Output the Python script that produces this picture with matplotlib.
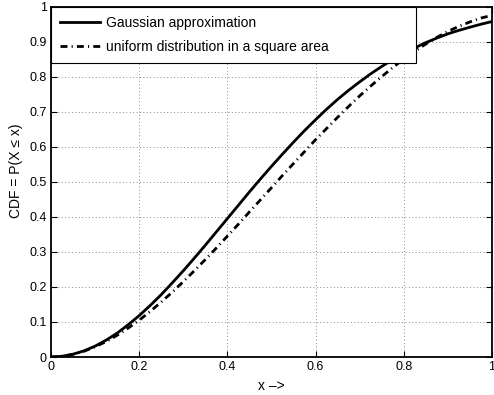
import matplotlib
matplotlib.use("Agg")
import matplotlib.pyplot as plt

# values
x_vals = [0.0, 0.025, 0.05, 0.075, 0.1, 0.125, 0.15, 0.175, 0.2, 0.225, 0.25,
          0.275, 0.3, 0.325, 0.35, 0.375, 0.4, 0.425, 0.45, 0.475, 0.5,
          0.525, 0.55, 0.575, 0.6, 0.625, 0.65, 0.675, 0.7, 0.725, 0.75,
          0.775, 0.8, 0.825, 0.85, 0.875, 0.9, 0.925, 0.95, 0.975, 1.0]
gauss_cdf = [0.0, 0.002, 0.008, 0.0175, 0.031, 0.048, 0.068, 0.092, 0.118, 0.147, 0.178,
             0.2115, 0.246, 0.282, 0.319, 0.357, 0.395, 0.433, 0.471, 0.508, 0.544,
             0.579, 0.613, 0.646, 0.677, 0.707, 0.735, 0.761, 0.785, 0.808, 0.829,
             0.8485, 0.866, 0.882, 0.897, 0.910, 0.922, 0.932, 0.941, 0.9495, 0.957]
square_cdf = [0.0, 0.002, 0.0075, 0.0166, 0.029, 0.044, 0.062, 0.0824, 0.105, 0.130, 0.157,
              0.185, 0.215, 0.246, 0.278, 0.311, 0.345, 0.379, 0.414, 0.4485, 0.483,
              0.518, 0.552, 0.586, 0.620, 0.652, 0.684, 0.715, 0.745, 0.773, 0.800,
              0.826, 0.850, 0.8725, 0.893, 0.912, 0.929, 0.9435, 0.956, 0.967, 0.975]

x_ticks = [0, 0.2, 0.4, 0.6, 0.8, 1]
x_tick_labels = ["0", "0.2", "0.4", "0.6", "0.8", "1"]
y_ticks = [0, 0.1, 0.2, 0.3, 0.4, 0.5, 0.6, 0.7, 0.8, 0.9, 1]
y_tick_labels = ["0", "0.1", "0.2", "0.3", "0.4", "0.5", "0.6", "0.7", "0.8", "0.9", "1"]

plt.rcParams['font.family'] = ['Liberation Sans', 'DejaVu Sans']

fig = plt.figure(figsize=(4.94, 3.95), dpi=100)
ax = fig.add_axes([0.1032, 0.0962, 0.8927, 0.8873])

ax.plot(x_vals, gauss_cdf, color='black', lw=2.0, label='Gaussian approximation')
ax.plot(x_vals, square_cdf, color='black', lw=2.0, linestyle=(0, (2.5, 1.5, 0.4, 1.5)),
        label='uniform distribution in a square area')

ax.set_xlim(0, 1)
ax.set_ylim(0, 1)
ax.set_xticks(x_ticks)
ax.set_xticklabels(x_tick_labels)
ax.set_yticks(y_ticks)
ax.set_yticklabels(y_tick_labels)
ax.tick_params(direction='in', length=4, width=0.8, labelsize=9, top=True, right=True, pad=3)
ax.grid(True, linestyle=(0, (1, 2.5)), color='#888888', lw=0.7)
for s in ax.spines.values():
    s.set_linewidth(1.3)

ax.set_xlabel('x \u2013>', fontsize=10)
ax.xaxis.set_label_coords(0.5, -0.062)
ax.set_ylabel('CDF = P(X \u2264 x)', fontsize=10)
ax.yaxis.set_label_coords(-0.063, 0.53)

leg = ax.legend(loc='upper left', bbox_to_anchor=(0, 0.842, 0.828, 0.158), mode='expand',
                fontsize=10, handlelength=2.9, handletextpad=0.4, borderaxespad=0,
                fancybox=False, framealpha=1, edgecolor='black', labelspacing=0.75,
                borderpad=0.65)
leg.get_frame().set_linewidth(0.8)

fig.savefig('out.png', dpi=100)
